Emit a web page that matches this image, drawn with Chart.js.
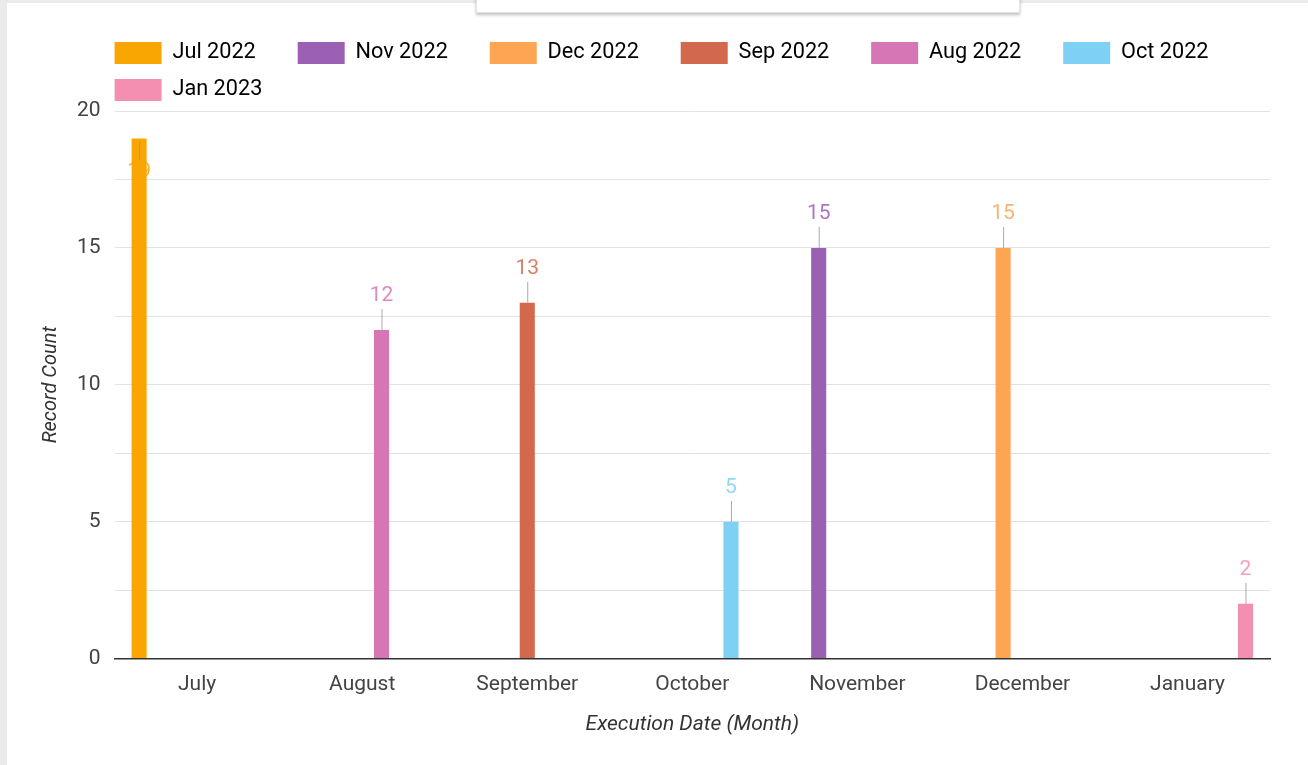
<!DOCTYPE html>
<html lang="en">
<head>
    <meta charset="UTF-8">
    <title>Record Count by Execution Month</title>
    <script src="https://cdn.jsdelivr.net/npm/chart.js"></script>
    <style>
        body {
            margin: 0;
            background: #ebebeb;
            font-family: 'Roboto', sans-serif;
            width: 1308px;
            height: 765px;
            overflow: hidden;
            position: relative;
        }
        .card {
            position: absolute;
            left: 7px;
            top: 3px;
            width: 1301px;
            height: 762px;
            background: #ffffff;
        }
        .top-box {
            position: absolute;
            left: 476px;
            top: -4px;
            width: 542px;
            height: 15px;
            background: #ffffff;
            border: 1px solid #e2e2e2;
            box-shadow: 0 2px 3px rgba(0, 0, 0, 0.25);
        }
    </style>
</head>
<body>
    <div class="card">
        <canvas id="monthChart" width="1301" height="762"></canvas>
    </div>
    <div class="top-box"></div>

    <script>
        // categories (x axis)
        const months = ['July', 'August', 'September', 'October', 'November', 'December', 'January'];

        // one series per month, legend order
        const seriesNames = ['Jul 2022', 'Nov 2022', 'Dec 2022', 'Sep 2022', 'Aug 2022', 'Oct 2022', 'Jan 2023'];
        const seriesColors = ['#f9a602', '#9b5fb4', '#fda552', '#d2694c', '#d676b5', '#7fd0f5', '#f48fb1'];

        const jul2022 = [19, null, null, null, null, null, null];
        const nov2022 = [null, null, null, null, 15, null, null];
        const dec2022 = [null, null, null, null, null, 15, null];
        const sep2022 = [null, null, 13, null, null, null, null];
        const aug2022 = [null, 12, null, null, null, null, null];
        const oct2022 = [null, null, null, 5, null, null, null];
        const jan2023 = [null, null, null, null, null, null, 2];
        const seriesValues = [jul2022, nov2022, dec2022, sep2022, aug2022, oct2022, jan2023];

        const yTicks = [0, 5, 10, 15, 20];

        const legendPad = 15;

        // value labels with a small leader line above each bar
        const barLabels = {
            id: 'barLabels',
            afterDatasetsDraw(chart) {
                const { ctx, chartArea } = chart;
                ctx.save();
                ctx.font = '21px Roboto';
                ctx.textAlign = 'center';
                ctx.textBaseline = 'middle';
                chart.data.datasets.forEach((ds, i) => {
                    const meta = chart.getDatasetMeta(i);
                    meta.data.forEach((bar, j) => {
                        const v = ds.data[j];
                        if (v == null) return;
                        let y0 = bar.y, y1 = bar.y - 21, ty = bar.y - 34;
                        if (ty - 10 < chartArea.top) {
                            y0 = bar.y + 3; y1 = bar.y + 22; ty = bar.y + 33;
                        }
                        ctx.strokeStyle = 'rgba(150,150,150,0.8)';
                        ctx.lineWidth = 1;
                        ctx.beginPath();
                        ctx.moveTo(bar.x + 0.5, y0);
                        ctx.lineTo(bar.x + 0.5, y1);
                        ctx.stroke();
                        ctx.globalAlpha = 0.85;
                        ctx.fillStyle = ds.backgroundColor;
                        ctx.fillText(String(v), bar.x, ty);
                        ctx.globalAlpha = 1;
                    });
                });
                ctx.restore();
            }
        };

        // line the legend up with the left edge of the plot
        const legendShift = {
            id: 'legendShift',
            afterLayout(chart) {
                chart.legend.left = chart.chartArea.left - legendPad;
            }
        };

        new Chart(document.getElementById('monthChart').getContext('2d'), {
            type: 'bar',
            data: {
                labels: months,
                datasets: seriesNames.map((name, i) => ({
                    label: name,
                    data: seriesValues[i],
                    backgroundColor: seriesColors[i],
                    categoryPercentage: 0.82,
                    barPercentage: 0.78
                }))
            },
            options: {
                responsive: false,
                animation: false,
                layout: { padding: { top: 24, right: 38, bottom: 24, left: 29 } },
                plugins: {
                    legend: {
                        position: 'top',
                        align: 'start',
                        labels: {
                            boxWidth: 47,
                            boxHeight: 22,
                            padding: legendPad,
                            color: '#333',
                            font: { family: 'Roboto', size: 21.7 },
                            generateLabels(chart) {
                                return chart.data.datasets.map((ds, i) => ({
                                    text: ds.label + '     ',
                                    fillStyle: ds.backgroundColor,
                                    strokeStyle: ds.backgroundColor,
                                    lineWidth: 0,
                                    hidden: false,
                                    datasetIndex: i
                                }));
                            }
                        }
                    },
                    tooltip: { enabled: false }
                },
                scales: {
                    x: {
                        grid: { display: false, drawTicks: false },
                        border: { display: true, color: '#333', width: 1.5 },
                        ticks: { color: '#444', padding: 14, font: { family: 'Roboto', size: 21 } },
                        title: {
                            display: true,
                            text: 'Execution Date (Month)',
                            color: '#333',
                            padding: { top: 0 },
                            font: { family: 'Roboto', size: 21, style: 'italic' }
                        }
                    },
                    y: {
                        min: 0,
                        max: 20,
                        grid: {
                            drawTicks: false,
                            color: ctx => ctx.tick.value === 0 ? '#333' : '#e2e2e2'
                        },
                        border: { display: false },
                        ticks: {
                            stepSize: 2.5,
                            padding: 14,
                            color: '#444',
                            font: { family: 'Roboto', size: 21 },
                            callback: v => yTicks.includes(v) ? v : ''
                        },
                        title: {
                            display: true,
                            text: 'Record Count',
                            color: '#333',
                            padding: { top: 3, bottom: 0 },
                            font: { family: 'Roboto', size: 20, style: 'italic' }
                        }
                    }
                }
            },
            plugins: [legendShift, barLabels]
        });
    </script>
</body>
</html>
